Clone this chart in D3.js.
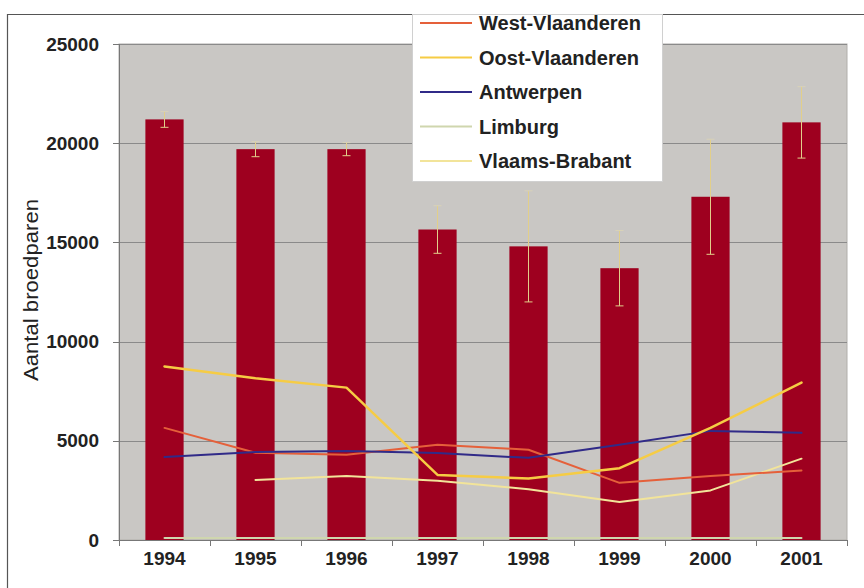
<!DOCTYPE html>
<html><head><meta charset="utf-8">
<script src="https://cdn.jsdelivr.net/npm/d3@7"></script>
<style>
html,body{margin:0;padding:0;background:#fff;}
svg{display:block;font-family:"Liberation Sans",Arial,sans-serif;}
</style></head>
<body><svg id="c" width="864" height="588"></svg>
<script>
const years = ["1994","1995","1996","1997","1998","1999","2000","2001"];
const totals = [21200,19700,19700,15650,14800,13700,17300,21050];
const errors = [400,380,330,1200,2800,1900,2900,1800];
const westVlaanderen = [5650,4400,4300,4800,4550,2880,3230,3500];
const oostVlaanderen = [8750,8150,7680,3280,3100,3620,5650,7930];
const antwerpen = [4180,4440,4480,4380,4140,4800,5500,5400];
const limburg = [100,100,100,100,100,100,100,100];
const vlaamsBrabant = [null,3030,3230,2990,2560,1920,2500,4100];
const seriesNames = ["West-Vlaanderen","Oost-Vlaanderen","Antwerpen","Limburg","Vlaams-Brabant"];
const seriesValues = [westVlaanderen,oostVlaanderen,antwerpen,limburg,vlaamsBrabant];
const seriesColors = ["#e5603a","#f6cc44","#302a88","#cfd6ae","#f2e49a"];
const seriesWidths = [2,2.5,2,2,2];
const yTicks = [0,5000,10000,15000,20000,25000];
const yTitle = "Aantal broedparen";

const svg = d3.select("#c");
const L=119,R=847,T=44,B=540;

// outer frame (top and left visible)
svg.append("line").attr("x1",7).attr("x2",864).attr("y1",14.5).attr("y2",14.5).attr("stroke","#555").attr("stroke-width",1.2);
svg.append("line").attr("x1",7.5).attr("x2",7.5).attr("y1",14).attr("y2",588).attr("stroke","#555").attr("stroke-width",1.2);

const x = d3.scaleBand().domain(years).range([L,R]).paddingInner(0.58).paddingOuter(0.29);
const y = d3.scaleLinear().domain([0,25000]).range([B,T]);

svg.append("rect").attr("x",L).attr("y",T).attr("width",R-L).attr("height",B-T).attr("fill","#c9c7c4").attr("stroke","#b0aeab");

svg.append("g").selectAll("line").data(yTicks.filter(d=>d>0)).join("line")
  .attr("x1",L).attr("x2",R).attr("y1",d=>Math.round(y(d))+0.5).attr("y2",d=>Math.round(y(d))+0.5)
  .attr("stroke","#8a8a8a").attr("stroke-width",1);

// bars
svg.append("g").selectAll("rect").data(years).join("rect")
  .attr("x",d=>x(d)).attr("width",x.bandwidth())
  .attr("y",(d,i)=>y(totals[i])).attr("height",(d,i)=>B-y(totals[i]))
  .attr("fill","#9e001f");

// error bars
const eb = svg.append("g").attr("stroke","#e2cf8a").attr("stroke-width",1);
years.forEach((d,i)=>{
  const cx = x(d)+x.bandwidth()/2;
  const y1 = y(totals[i]-errors[i]), y2 = y(totals[i]+errors[i]);
  eb.append("line").attr("x1",cx).attr("x2",cx).attr("y1",y1).attr("y2",y2);
  eb.append("line").attr("x1",cx-4).attr("x2",cx+4).attr("y1",y1).attr("y2",y1);
  eb.append("line").attr("x1",cx-4).attr("x2",cx+4).attr("y1",y2).attr("y2",y2).attr("stroke","#d8d2b8");
});

// axes
const xAxis = svg.append("g").attr("transform",`translate(0,${B})`);
xAxis.append("line").attr("x1",L).attr("x2",R).attr("y1",0.5).attr("y2",0.5).attr("stroke","#777");
const step = x.step();
const bounds = d3.range(years.length+1).map(i=>L+i*step);
xAxis.selectAll("line.t").data(bounds).join("line").attr("class","t")
  .attr("x1",d=>Math.round(d)+0.5).attr("x2",d=>Math.round(d)+0.5).attr("y1",0).attr("y2",6).attr("stroke","#777");
xAxis.selectAll("text").data(years).join("text")
  .attr("x",d=>x(d)+x.bandwidth()/2).attr("y",25)
  .attr("text-anchor","middle").attr("font-size",19).attr("font-weight","bold").attr("fill","#222").text(d=>d);

const yAxis = svg.append("g");
yAxis.append("line").attr("x1",L+0.5).attr("x2",L+0.5).attr("y1",T).attr("y2",B).attr("stroke","#777");
yAxis.selectAll("line.t").data(yTicks).join("line").attr("class","t")
  .attr("x1",L-6).attr("x2",L).attr("y1",d=>Math.round(y(d))+0.5).attr("y2",d=>Math.round(y(d))+0.5).attr("stroke","#777");
yAxis.selectAll("text").data(yTicks).join("text")
  .attr("x",99).attr("y",d=>y(d)).attr("dy","0.35em")
  .attr("text-anchor","end").attr("font-size",19).attr("font-weight","bold").attr("fill","#222").text(d=>d);

svg.append("text").attr("transform","translate(31,290) rotate(-90)").attr("dy","0.35em")
  .attr("text-anchor","middle").attr("font-size",21).attr("font-weight",500).attr("fill","#222")
  .attr("textLength",182).attr("lengthAdjust","spacingAndGlyphs").text(yTitle);

// lines
const line = d3.line().defined(v=>v!=null)
  .x((v,i)=>x(years[i])+x.bandwidth()/2).y(v=>y(v));
const lg = svg.append("g").attr("fill","none").attr("stroke-linejoin","round").attr("stroke-linecap","round");
[3,4,0,2,1].forEach(k=>{
  lg.append("path").attr("d",line(seriesValues[k])).attr("stroke",seriesColors[k]).attr("stroke-width",seriesWidths[k]);
});

// legend
const leg = svg.append("g");
leg.append("rect").attr("x",412.5).attr("y",14.5).attr("width",250).attr("height",167)
  .attr("fill","#fff").attr("stroke","#d0d0d0");
seriesNames.forEach((n,i)=>{
  const cy = 23 + i*34.5;
  leg.append("line").attr("x1",420).attr("x2",472).attr("y1",cy).attr("y2",cy)
    .attr("stroke",seriesColors[i]).attr("stroke-width",2);
  leg.append("text").attr("x",479).attr("y",cy).attr("dy","0.36em")
    .attr("font-size",20).attr("font-weight","bold").attr("fill","#222").text(n);
});
</script></body></html>
